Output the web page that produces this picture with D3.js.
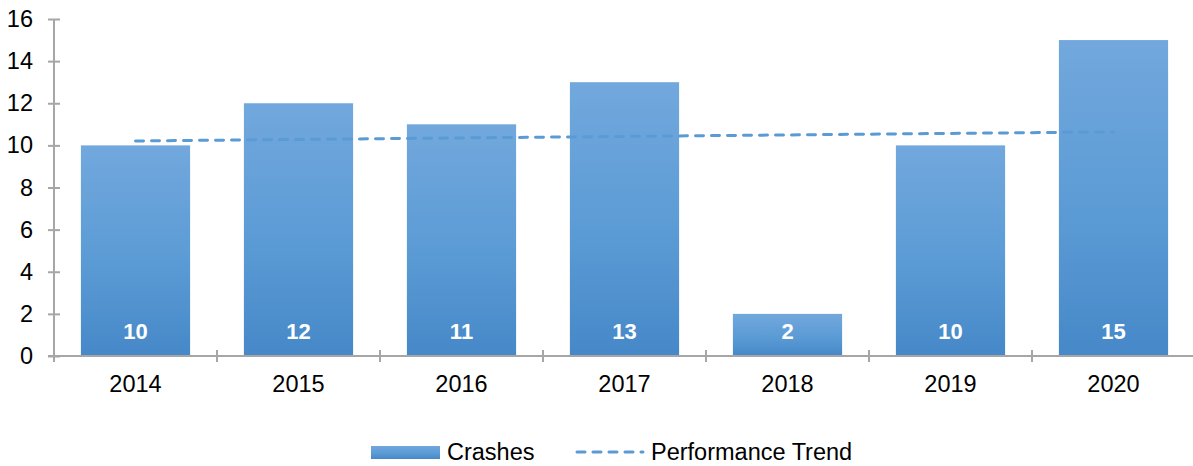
<!DOCTYPE html>
<html>
<head>
<meta charset="utf-8">
<script src="https://cdn.jsdelivr.net/npm/d3@7"></script>
<style>
  body { margin: 0; background: #fff; }
  svg { display: block; font-family: "Liberation Sans", Arial, sans-serif; }
  .axis path, .axis line { stroke: #a6a6a6; stroke-width: 2; }
  .axis text { fill: #000; }
</style>
</head>
<body>
<svg id="chart" width="1193" height="466"></svg>
<script>
// Chart data
const years = ["2014", "2015", "2016", "2017", "2018", "2019", "2020"];
const crashes = [10, 12, 11, 13, 2, 10, 15];
// Trend line end points
const trendYears = ["2014", "2020"];
const trendValues = [10.21, 10.64];
const yTicks = [0, 2, 4, 6, 8, 10, 12, 14, 16];

const BLUE = "#5b9bd5";
const FONT_SIZE = 23.5;
const DASH = "8 8";

const svg = d3.select("#chart");
const width = +svg.attr("width");
const height = +svg.attr("height");
const pad = { left: 54, top: 19, right: -2, bottom: 110 };
const innerWidth = width - pad.left - pad.right;
const innerHeight = height - pad.top - pad.bottom;

const x = d3.scaleBand().domain(years).range([0, innerWidth]).paddingInner(0.33).paddingOuter(0.165);
const y = d3.scaleLinear().domain([0, 16]).range([innerHeight, 0]);

// Vertical gradient for the bars
const grad = svg.append("defs").append("linearGradient")
  .attr("id", "barGrad")
  .attr("x1", 0).attr("y1", 0).attr("x2", 0).attr("y2", 1);
grad.append("stop").attr("offset", "0%").attr("stop-color", "#72a8dd");
grad.append("stop").attr("offset", "55%").attr("stop-color", "#5b9bd5");
grad.append("stop").attr("offset", "100%").attr("stop-color", "#4688c8");

const g = svg.append("g").attr("transform", `translate(${pad.left},${pad.top})`);

// Bars
g.append("g")
  .selectAll("rect")
  .data(years)
  .join("rect")
  .attr("x", (d) => x(d))
  .attr("width", x.bandwidth())
  .attr("y", (d, i) => y(crashes[i]))
  .attr("height", (d, i) => y(0) - y(crashes[i]))
  .attr("fill", "url(#barGrad)");

// Value labels inside the bars
g.append("g")
  .selectAll("text")
  .data(years)
  .join("text")
  .attr("x", (d) => x(d) + x.bandwidth() / 2)
  .attr("y", y(0) - 25)
  .attr("dy", "0.35em")
  .attr("text-anchor", "middle")
  .attr("fill", "#fff")
  .attr("font-size", 22)
  .attr("font-weight", "bold")
  .text((d, i) => crashes[i]);

// Trend line
const line = d3.line()
  .x((d) => x(d) + x.bandwidth() / 2)
  .y((d, i) => y(trendValues[i]));
g.append("path")
  .datum(trendYears)
  .attr("d", line)
  .attr("fill", "none")
  .attr("stroke", BLUE)
  .attr("stroke-width", 3)
  .attr("stroke-dasharray", DASH)
  .attr("stroke-linecap", "round");

// Y axis (ticks cross the axis line)
const gy = g.append("g")
  .attr("class", "axis")
  .call(d3.axisLeft(y).tickValues(yTicks).tickSize(6).tickSizeOuter(0).tickPadding(15))
  .attr("font-size", FONT_SIZE)
  .attr("font-family", null);
gy.selectAll(".tick line").attr("x2", 6).attr("x1", -6);
gy.select(".domain").attr("d", `M0,0V${innerHeight + 6}`);

// X axis with category boundary ticks
const gx = g.append("g")
  .attr("class", "axis")
  .attr("transform", `translate(0,${innerHeight})`)
  .call(d3.axisBottom(x).tickSize(0).tickPadding(19))
  .attr("font-size", FONT_SIZE)
  .attr("font-family", null);
gx.select(".domain").attr("d", `M-6,0H${innerWidth}`);
const step = x.step();
gx.selectAll(".bound")
  .data(d3.range(1, years.length + 1))
  .join("line")
  .attr("class", "bound")
  .attr("x1", (i) => i * step)
  .attr("x2", (i) => i * step)
  .attr("y1", -6)
  .attr("y2", 6);

// Legend
const legend = svg.append("g").attr("transform", `translate(0,452)`);
legend.append("rect")
  .attr("x", 371).attr("y", -6).attr("width", 69).attr("height", 13)
  .attr("fill", "url(#barGrad)");
legend.append("text")
  .attr("x", 447).attr("y", 0).attr("dy", "0.35em")
  .attr("font-size", FONT_SIZE).text("Crashes");
legend.append("line")
  .attr("x1", 577).attr("x2", 643).attr("y1", 0).attr("y2", 0)
  .attr("stroke", BLUE).attr("stroke-width", 3)
  .attr("stroke-dasharray", DASH).attr("stroke-linecap", "round");
legend.append("text")
  .attr("x", 651).attr("y", 0).attr("dy", "0.35em")
  .attr("font-size", FONT_SIZE).text("Performance Trend");
</script>
</body>
</html>
